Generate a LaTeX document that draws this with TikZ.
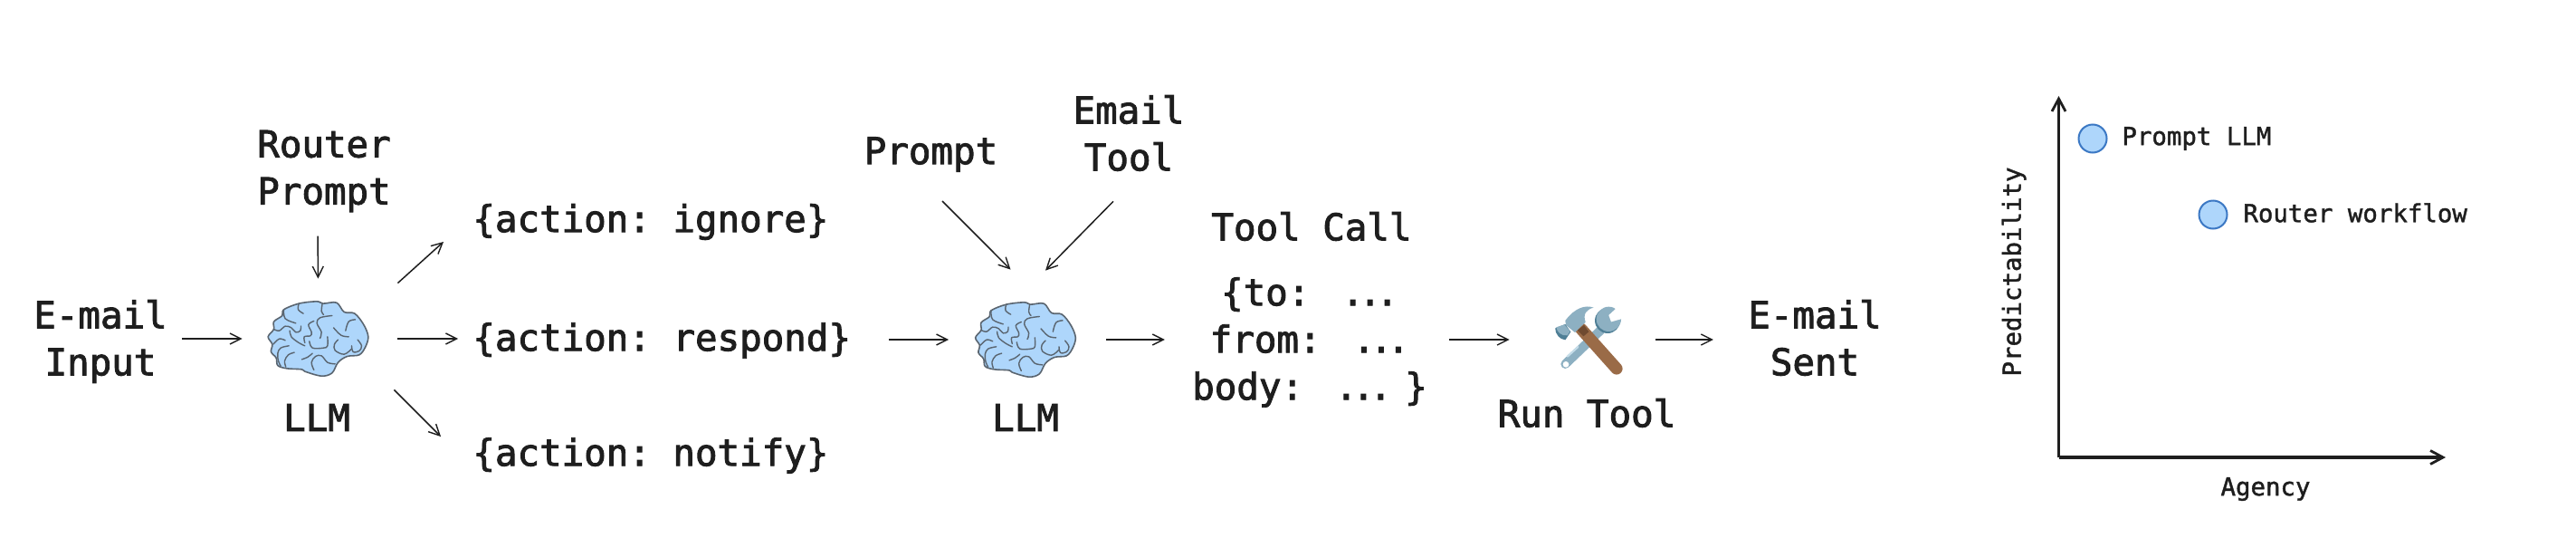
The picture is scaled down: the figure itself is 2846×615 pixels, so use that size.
\documentclass[tikz,border=0pt]{standalone}
\usepackage{fontspec}
\setmainfont{DejaVu Sans Mono}
\usetikzlibrary{arrows.meta,calc}
\definecolor{ink}{HTML}{1E1E1E}
\definecolor{brainfill}{HTML}{AED6FB}
\definecolor{brainline}{HTML}{5A6570}
\definecolor{dotline}{HTML}{3B78C4}
\definecolor{steel}{HTML}{8DB0C2}
\definecolor{steeld}{HTML}{4F7F96}
\definecolor{steell}{HTML}{C4DCE8}
\definecolor{wood}{HTML}{9A6B47}
\definecolor{woodd}{HTML}{6F4A30}
\newcommand{\ddd}{.\kern-2.8pt.\kern-2.8pt.}
\newcommand{\gap}{\ \kern-7pt\ }
\newcommand{\wrinkle}[1]{\draw plot[smooth,tension=.6] coordinates {#1};}
\newcommand{\heavier}[1]{\special{pdf:code 2 Tr #1 w 0.118 0.118 0.118 RG}}
\tikzset{
  big/.style={font=\fontsize{20.4}{26}\selectfont\heavier{0.45},text=ink,inner sep=0pt,align=center},
  small/.style={font=\fontsize{13.7}{17}\selectfont\heavier{0.2},text=ink,inner sep=0pt},
  iconbox/.style={inner sep=0pt,minimum width=55.5pt,minimum height=41pt},
  flow/.style={draw=ink,line width=0.75pt,-{Straight Barb[length=6pt,width=6pt,line width=0.7pt]}},
  axis/.style={draw=ink,line width=1.8pt,-{Straight Barb[length=7pt,width=7.5pt,line width=1.4pt]}},
  dot/.style={circle,draw=dotline,fill=brainfill,line width=1pt,minimum size=15.5pt,inner sep=0pt},
  pics/brainshape/.style={code={
    \begin{scope}[x=0.16667pt,y=-0.16667pt,shift={(-244,-191.5)}]
      \draw[brainline,fill=brainfill,line width=0.8pt,line join=round]
        plot[smooth cycle,tension=.55] coordinates {(78,185)(97,160)(97,135)(125,115)(130,95)(180,75)(240,68)(260,75)(305,72)(330,103)(365,108)(395,145)(410,185)(400,220)(380,245)(340,250)(310,270)(290,305)(255,315)(200,300)(190,293)(140,290)(110,280)(105,255)(88,235)(92,210)};
      \begin{scope}[brainline,line width=0.7pt,line cap=round]
        \wrinkle{(180,75)(178,95)(195,108)}
        \wrinkle{(258,75)(255,100)(262,112)}
        \wrinkle{(130,95)(135,125)(170,140)}
        \wrinkle{(97,160)(115,165)(135,150)(155,155)(170,170)(185,165)(187,150)}
        \wrinkle{(150,165)(155,185)(180,205)(200,215)}
        \wrinkle{(230,133)(212,145)(222,170)(218,182)(198,185)(200,205)}
        \wrinkle{(290,115)(250,122)(240,140)(255,170)(250,190)}
        \wrinkle{(275,185)(275,215)(262,222)(225,222)(215,200)}
        \wrinkle{(95,210)(115,192)(135,197)}
        \wrinkle{(147,215)(120,222)(110,240)(112,265)(120,282)}
        \wrinkle{(165,237)(145,245)(133,265)(137,285)}
        \wrinkle{(225,240)(210,252)(190,260)}
        \wrinkle{(230,295)(222,270)(235,250)(255,248)(275,270)(300,275)}
        \wrinkle{(367,128)(345,135)(335,165)}
        \wrinkle{(295,155)(320,180)(345,185)}
        \wrinkle{(310,195)(298,210)(300,230)(330,243)(355,225)}
        \wrinkle{(375,195)(388,215)(380,232)(360,235)(355,215)}
      \end{scope}
    \end{scope}
  }},
  pics/toolsshape/.style={code={
    \begin{scope}[x=0.16667pt,y=-0.16667pt,shift={(-195,-169)}]
      % wrench
      \draw[steel,line width=5pt,line cap=round] (118,247) -- (235,135);
      \fill[steeld] (258,103) circle (42);
      \fill[steel] (262,98) circle (41);
      \fill[white] (287,62) -- (262,85) -- (270,107) -- (306,97) -- (320,70) -- cycle;
      \fill[white] (120,248) circle (10);
      \draw[steell,line width=1.1pt,line cap=round] (125,222) -- (160,190);
      % handle
      \draw[wood,line width=6.6pt,line cap=round] (170,130) -- (288,262);
      \fill[woodd] (158,135) -- (180,118) -- (196,140) -- (178,155) -- cycle;
      % hammer
      \fill[steel] (118,103) .. controls (150,60) and (185,50) .. (212,60) .. controls (190,65) and (175,80) .. (185,108) -- (150,142) -- (120,118) -- cycle;
      \fill[steeld] (85,128) -- (118,115) -- (136,140) -- (118,167) .. controls (100,165) and (85,150) .. (85,128) -- cycle;
      \fill[steel] (88,125) -- (115,116) -- (134,138) -- (125,152) .. controls (105,155) and (90,140) .. (88,125) -- cycle;
    \end{scope}
  }}
}
\begin{document}
\begin{tikzpicture}[x=0.5pt,y=-0.5pt]
  \useasboundingbox[fill=white] (0,0) rectangle (2846,615);

  % nodes
  \node[big] (input) at (111,377) {E-mail\\Input};
  \node[big] (rprompt) at (358,189) {Router\\Prompt};
  \node[iconbox] (brain1) at (351.5,374) {};
  \pic at (brain1.center) {brainshape};
  \node[big] (llm1) at (350,461) {LLM};
  \node[big,anchor=west] (ignore) at (522,245) {\{action:\ ignore\}};
  \node[big,anchor=west] (respond) at (522,376) {\{action:\ respond\}};
  \node[big,anchor=west] (notify) at (522,503) {\{action:\ notify\}};
  \node[big,anchor=south] (prompt) at (1028.5,190) {Prompt};
  \node[big] (emailtool) at (1247,147) {Email\\Tool};
  \node[iconbox] (brain2) at (1133,375) {};
  \pic at (brain2.center) {brainshape};
  \node[big] (llm2) at (1133,461) {LLM};
  \node[big] (toolcall) at (1449,250) {Tool Call};
  \node[big] (call) at (1447,378) {\{to:\gap\ddd\\from:\gap\ddd\\body:\gap\ddd\kern-5pt\ \}};
  \node[iconbox,minimum width=37pt,minimum height=37pt] (tools) at (1755,376) {};
  \pic at (tools.center) {toolsshape};
  \node[big] (runtool) at (1753,456) {Run Tool};
  \node[big] (sent) at (2005,373) {E-mail\\Sent};

  % connectors
  \draw[flow,shorten <=8pt,shorten >=14pt] (input.east |- brain1.west) -- (brain1.west);
  \draw[flow,shorten <=13pt,shorten >=12.5pt] ([shift={(-7,0)}]rprompt.south) -- (brain1.north);
  \draw[flow] ([shift={(32,-20)}]brain1.north east) -- ([shift={(-32,22)}]ignore.west);
  \draw[flow,shorten <=16pt,shorten >=8pt] (brain1.east) -- (respond.west |- brain1.east);
  \draw[flow] ([shift={(28,15)}]brain1.south east) -- ([shift={(-35,-21)}]notify.west);
  \draw[flow,shorten <=21pt,shorten >=14.5pt] (respond.east |- brain2.west) -- (brain2.west);
  \draw[flow] ([shift={(12.5,32)}]prompt.south) -- ([shift={(-16.5,-36)}]brain2.north);
  \draw[flow] ([shift={(-17,33)}]emailtool.south) -- ([shift={(22,-35)}]brain2.north);
  \draw[flow,shorten <=16.5pt,shorten >=15pt] (brain2.east) -- (brain2.east -| call.west);
  \draw[flow,shorten <=12pt,shorten >=25pt] (brain2.east -| call.east) -- (tools.west |- brain2.east);
  \draw[flow,shorten <=18.5pt,shorten >=19pt] (tools.east |- brain2.east) -- (brain2.east -| sent.west);

  % chart
  \coordinate (origin) at (2274.5,505);
  \coordinate (ytop) at (2274.5,106);
  \coordinate (xend) at (2702,505);
  \draw[axis] (origin) -- (ytop);
  \draw[axis] (origin) -- (xend);
  \node[dot] (d1) at (2312,153) {};
  \node[dot] (d2) at (2445,237) {};
  \node[small,anchor=west] (l1) at (2344,153) {Prompt LLM};
  \node[small,anchor=west] (l2) at (2478,235) {Router workflow};
  \node[small,rotate=90] (ylab) at (2225,300) {Predictability};
  \node[small] (xlab) at (2503,540) {Agency};
\end{tikzpicture}
\end{document}
